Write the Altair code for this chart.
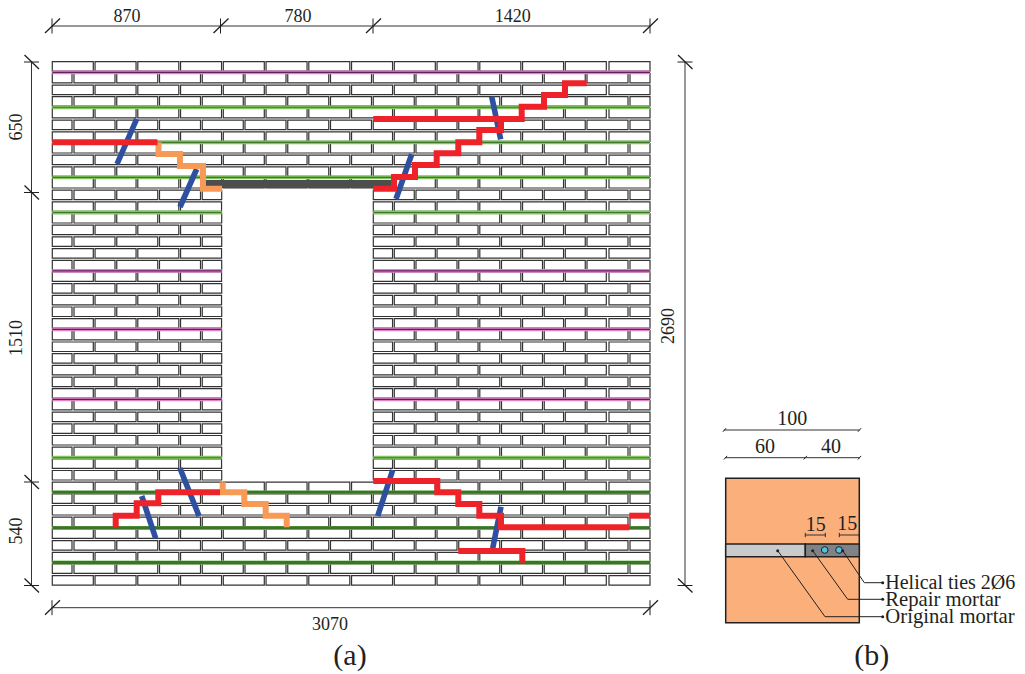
import altair as alt
import pandas as pd

# ---------- masonry layout (page-pixel style drawing units) ----------
COURSE_TOPS = [61.7, 73.4, 85.1, 96.7, 108.4, 120.1, 131.8, 143.5, 155.1, 166.8, 178.5, 190.2, 201.9,
               213.5, 225.2, 236.9, 248.6, 260.3, 271.9, 283.6, 295.3, 307.0, 318.7, 330.3, 342.0,
               353.7, 365.4, 377.1, 388.7, 400.4, 412.1, 423.8, 435.5, 447.1, 458.8, 470.5, 482.2,
               493.9, 505.5, 517.2, 528.9, 540.6, 552.3, 563.9, 575.7]
BRICK_H = 9.5
BRICK_W = 41
FULL_LEFTS = [52.3, 95.05, 137.8, 180.55, 223.3, 266.05, 308.8, 351.55, 394.3, 437.05, 479.8, 522.55, 565.3, 609.0]
RUNNING_LEFTS = [74.0, 116.75, 159.5, 202.25, 245.0, 287.75, 330.5, 373.25, 416.0, 458.75, 501.5, 544.25, 587.0]
HALF_BRICKS = [(52.3, 72.0), (630.0, 650.0)]
OPENING_COURSES = (11, 35)
OPENING_X = (221.7, 373.3)

MAGENTA_JOINTS = [72.3, 270.9, 329.3, 399.3]
MAGENTA_FULL = [True, False, False, False]
GREEN_JOINTS = [107.3, 142.4, 177.4, 212.5, 457.7, 492.3, 527.8, 562.5]
GREEN_FULL = [True, True, True, False, False, True, True, True]
GREEN_DARK = [False, False, False, False, False, True, True, True]

# ---------- cracks ----------
RED_1_X = [52.3, 157.5]
RED_1_Y = [142.3, 142.3]
RED_2_X = [373.3, 521.7, 521.7, 544, 544, 565, 565, 586.7]
RED_2_Y = [119, 119, 106.7, 106.7, 95, 95, 83.3, 83.3]
RED_3_X = [373.3, 394, 394, 415, 415, 436.7, 436.7, 458.3, 458.3, 479.3, 479.3, 501, 501]
RED_3_Y = [188.7, 188.7, 177, 177, 165, 165, 153.3, 153.3, 142.3, 142.3, 130, 130, 118.3]
RED_4_X = [115.7, 115.7, 136.7, 136.7, 158.3, 158.3, 220]
RED_4_Y = [527.3, 515.7, 515.7, 503.3, 503.3, 492.3, 492.3]
RED_5_X = [373.3, 437.3, 437.3, 458.3, 458.3, 479.3, 479.3, 501, 501, 629.3]
RED_5_Y = [481, 481, 492.3, 492.3, 504, 504, 515.7, 515.7, 527.3, 527.3]
RED_6_X = [629.3, 650]
RED_6_Y = [515.7, 515.7]
RED_7_X = [458.3, 522.3, 522.3]
RED_7_Y = [551, 551, 562.7]
ORANGE_1_X = [158.5, 158.5, 180, 180, 203, 203, 222]
ORANGE_1_Y = [142.3, 154, 154, 166, 166, 188.7, 188.7]
ORANGE_2_X = [222.7, 222.7, 244.3, 244.3, 265.7, 265.7, 286.7, 286.7]
ORANGE_2_Y = [482.3, 492.3, 492.3, 504, 504, 515.7, 515.7, 527.3]
BLUE_X1 = [136.7, 196.7, 491.7, 411.7, 141.7, 180, 392.7, 501]
BLUE_Y1 = [119, 169, 96.7, 154.3, 496, 468.3, 470, 506.7]
BLUE_X2 = [117, 180, 500.7, 396, 155.7, 199, 377.7, 492.7]
BLUE_Y2 = [164, 207, 139.3, 199, 538.3, 516, 516, 548.3]

# ---------- dimension lines ----------
DIM_X1 = [52, 31.5, 685, 52, 723.7, 725, 805.3, 839.3]
DIM_Y1 = [26, 62, 62, 607.7, 430, 457.7, 535, 535]
DIM_X2 = [650, 31.5, 685, 650, 859.6, 860, 825.3, 859.3]
DIM_Y2 = [26, 586, 586, 607.7, 430, 457.7, 535, 535]
VTICK_X = [52, 220.5, 373, 650, 52, 650]
VTICK_Y = [26, 26, 26, 26, 607.7, 607.7]
HTICK_X = [31.5, 31.5, 31.5, 31.5, 685, 685]
HTICK_Y = [62, 192.5, 482, 585.5, 62, 585.5]
SMALL_TICK_X = [724.5, 859.5, 725.5, 805.3, 859.5]
SMALL_TICK_Y = [430, 430, 457.7, 457.7, 457.7]
END_TICK_X = [805.3, 825.3, 839.3, 859.3]
END_TICK_Y = [535, 535, 535, 535]

# ---------- cross-section (b) ----------
SECTION_X = [725.7, 859.3]
SECTION_Y = [478.3, 622.7]
STRIP_Y = [544, 556.7]
STRIP_X = [725.7, 805.3, 859.3]
TIE_X = [824.7, 839]
TIE_Y = [550, 550]
LEADER_A_X = [777.7, 825, 882.7]
LEADER_A_Y = [550.7, 616.7, 616.7]
LEADER_B_X = [812.7, 847.7, 882.7]
LEADER_B_Y = [550.7, 599.3, 599.3]
LEADER_C_X = [842.7, 864.3, 882.7]
LEADER_C_Y = [550.7, 582.7, 582.7]

# ---------- text ----------
H_LABELS = ["870", "780", "1420", "3070"]
H_LABEL_X = [127, 298, 512.7, 330]
H_LABEL_Y = [16.5, 16.5, 16.5, 624.6]
B_LABELS = ["100", "60", "40", "15", "15"]
B_LABEL_X = [792.3, 765, 831, 815.7, 847.3]
B_LABEL_Y = [419, 446.7, 446.7, 525, 524]
V_LABELS = ["650", "1510", "540", "2690"]
V_LABEL_X = [17.3, 17.3, 17.3, 668.6]
V_LABEL_Y = [127, 338, 531, 326]
CAPTIONS = ["(a)", "(b)"]
CAPTION_X = [350, 871.7]
CAPTION_Y = [656, 656]
NOTE_1 = ["Helical ties 2Ø6"]
NOTE_1_X = [885.3]
NOTE_1_Y = [582.8]
NOTES = ["Repair mortar", "Original mortar"]
NOTE_X = [885.3, 885.3]
NOTE_Y = [599.8, 617.1]

INK = "#231f20"
SERIF = "Liberation Serif"

X = lambda f="x": alt.X(f"{f}:Q", scale=alt.Scale(domain=[8, 1017], nice=False, zero=False), axis=None)
Y = lambda f="y": alt.Y(f"{f}:Q", scale=alt.Scale(domain=[674, 8], nice=False, zero=False), axis=None)


def bricks():
    rows = []
    for c, top in enumerate(COURSE_TOPS):
        spans = ([(l, l + BRICK_W) for l in FULL_LEFTS] if c % 2 == 0
                 else HALF_BRICKS + [(l, l + BRICK_W) for l in RUNNING_LEFTS])
        for a, b in spans:
            if c % 2 == 0:
                b = min(b, 650.0)
            if OPENING_COURSES[0] <= c <= OPENING_COURSES[1]:
                if a >= OPENING_X[0] and b <= OPENING_X[1]:
                    continue
                if a < OPENING_X[0] < b:
                    b = OPENING_X[0]
                if a < OPENING_X[1] < b:
                    a = OPENING_X[1]
            rows.append(dict(x=a, x2=b, y=top, y2=top + BRICK_H))
    return pd.DataFrame(rows)


def segs(x1, y1, x2, y2):
    return pd.DataFrame(dict(x=x1, y=y1, x2=x2, y2=y2))


def rules(df, color, width, opacity=1.0, cap="butt"):
    return alt.Chart(df).mark_rule(color=color, strokeWidth=width, opacity=opacity, strokeCap=cap).encode(
        x=X(), y=Y(), x2="x2:Q", y2="y2:Q")


def poly(xs, ys, color, width):
    df = pd.DataFrame(dict(x=xs, y=ys, i=list(range(len(xs)))))
    return alt.Chart(df).mark_line(color=color, strokeWidth=width, strokeCap="butt", strokeJoin="miter").encode(
        x=X(), y=Y(), order="i:Q")


def joint_segments(ys, full):
    x1, x2, yy = [], [], []
    for y, f in zip(ys, full):
        if f:
            x1.append(52.3); x2.append(650); yy.append(y)
        else:
            x1 += [52.3, OPENING_X[1]]; x2 += [OPENING_X[0], 650]; yy += [y, y]
    return segs(x1, yy, x2, yy)


def text(labels, xs, ys, size, align="center", angle=0):
    df = pd.DataFrame(dict(t=labels, x=xs, y=ys))
    return alt.Chart(df).mark_text(font=SERIF, fontSize=size, color=INK, align=align, baseline="middle",
                                   angle=angle).encode(x=X(), y=Y(), text="t:N")


layers = []
# bricks
layers.append(alt.Chart(bricks()).mark_rect(fill="white", stroke="#333333", strokeWidth=1.2).encode(
    x=X(), y=Y(), x2="x2:Q", y2="y2:Q"))

# bed joint reinforcement
layers.append(rules(joint_segments(MAGENTA_JOINTS, MAGENTA_FULL), "#dc86c2", 3.8))
layers.append(rules(joint_segments(MAGENTA_JOINTS, MAGENTA_FULL), "#6a1b63", 1.2))
layers.append(rules(joint_segments(GREEN_JOINTS, GREEN_FULL), "#86c462", 3.8))
dark = [y for y, d in zip(GREEN_JOINTS, GREEN_DARK) if d]
light = [y for y, d in zip(GREEN_JOINTS, GREEN_DARK) if not d]
light_full = [f for f, d in zip(GREEN_FULL, GREEN_DARK) if not d]
layers.append(rules(joint_segments(light, light_full), "#3b7a28", 1.1))
layers.append(rules(joint_segments(dark, [True] * len(dark)), "#3a7429", 3.0))

# lintel
lintel = pd.DataFrame(dict(x=[204.0], x2=[392.0], y=[180.0], y2=[188.0]))
layers.append(alt.Chart(lintel).mark_rect(fill="#4d4d4d").encode(x=X(), y=Y(), x2="x2:Q", y2="y2:Q"))

# cracks
layers.append(rules(segs(BLUE_X1, BLUE_Y1, BLUE_X2, BLUE_Y2), "#2f4f9f", 5.6))
for xs, ys in [(ORANGE_1_X, ORANGE_1_Y), (ORANGE_2_X, ORANGE_2_Y)]:
    layers.append(poly(xs, ys, "#f79a55", 6))
for xs, ys in [(RED_1_X, RED_1_Y), (RED_2_X, RED_2_Y), (RED_3_X, RED_3_Y), (RED_4_X, RED_4_Y),
               (RED_5_X, RED_5_Y), (RED_6_X, RED_6_Y), (RED_7_X, RED_7_Y)]:
    layers.append(poly(xs, ys, "#ee2229", 6))

# section (b)
section = pd.DataFrame(dict(x=[SECTION_X[0]], x2=[SECTION_X[1]], y=[SECTION_Y[0]], y2=[SECTION_Y[1]]))
layers.append(alt.Chart(section).mark_rect(fill="#fbb07c", stroke=INK, strokeWidth=1.5).encode(
    x=X(), y=Y(), x2="x2:Q", y2="y2:Q"))
strips = pd.DataFrame(dict(x=STRIP_X[:2], x2=STRIP_X[1:], y=[STRIP_Y[0]] * 2, y2=[STRIP_Y[1]] * 2, c=["#c9cbcd", "#808285"]))
layers.append(alt.Chart(strips).mark_rect(stroke=INK, strokeWidth=1.5).encode(
    x=X(), y=Y(), x2="x2:Q", y2="y2:Q", fill=alt.Fill("c:N", scale=None)))
layers.append(alt.Chart(pd.DataFrame(dict(x=TIE_X, y=TIE_Y))).mark_point(
    filled=True, fill="#4fc4dc", stroke=INK, strokeWidth=1.0, size=44, opacity=1).encode(x=X(), y=Y()))

# dimensions
layers.append(rules(segs(DIM_X1, DIM_Y1, DIM_X2, DIM_Y2), "#333333", 1.0))
v_slash = segs([x - 7 for x in VTICK_X], [y + 7 for y in VTICK_Y], [x + 8 for x in VTICK_X], [y - 7.5 for y in VTICK_Y])
v_stem = segs(VTICK_X, [y - 7.5 for y in VTICK_Y], VTICK_X, [y + 7.5 for y in VTICK_Y])
h_slash = segs([x - 7 for x in HTICK_X], [y - 7 for y in HTICK_Y], [x + 7.5 for x in HTICK_X], [y + 7 for y in HTICK_Y])
h_stem = segs([x - 7.5 for x in HTICK_X], HTICK_Y, [x + 7.5 for x in HTICK_X], HTICK_Y)
layers += [rules(v_slash, INK, 1.3), rules(v_stem, INK, 1.0), rules(h_slash, INK, 1.3), rules(h_stem, INK, 1.0)]
layers.append(rules(segs([x - 1.6 for x in SMALL_TICK_X], [y + 1.8 for y in SMALL_TICK_Y],
                         [x + 1.6 for x in SMALL_TICK_X], [y - 1.8 for y in SMALL_TICK_Y]), INK, 1.0))
layers.append(rules(segs(END_TICK_X, [y - 2.2 for y in END_TICK_Y], END_TICK_X, [y + 2.2 for y in END_TICK_Y]), INK, 0.9))

for xs, ys in [(LEADER_A_X, LEADER_A_Y), (LEADER_B_X, LEADER_B_Y), (LEADER_C_X, LEADER_C_Y)]:
    layers.append(poly(xs, ys, INK, 1.0))
    dots = pd.DataFrame(dict(x=[xs[0], xs[-1]], y=[ys[0], ys[-1]]))
    layers.append(alt.Chart(dots).mark_circle(color=INK, size=9, opacity=1).encode(x=X(), y=Y()))

# text
layers.append(text(H_LABELS, H_LABEL_X, H_LABEL_Y, 18))
layers.append(text(B_LABELS, B_LABEL_X, B_LABEL_Y, 20))
layers.append(text(V_LABELS, V_LABEL_X, V_LABEL_Y, 18, angle=270))
layers.append(text(CAPTIONS, CAPTION_X, CAPTION_Y, 30))
layers.append(text(NOTE_1, NOTE_1_X, NOTE_1_Y, 20, align="left"))
layers.append(text(NOTES, NOTE_X, NOTE_Y, 20.7, align="left"))

chart = alt.layer(*layers).properties(
    width=1009, height=666, padding=0,
    autosize=alt.AutoSizeParams(type="none", contains="content"),
).configure_view(stroke=None)
chart.save("out.html", embed_options={"renderer": "svg", "actions": False})
